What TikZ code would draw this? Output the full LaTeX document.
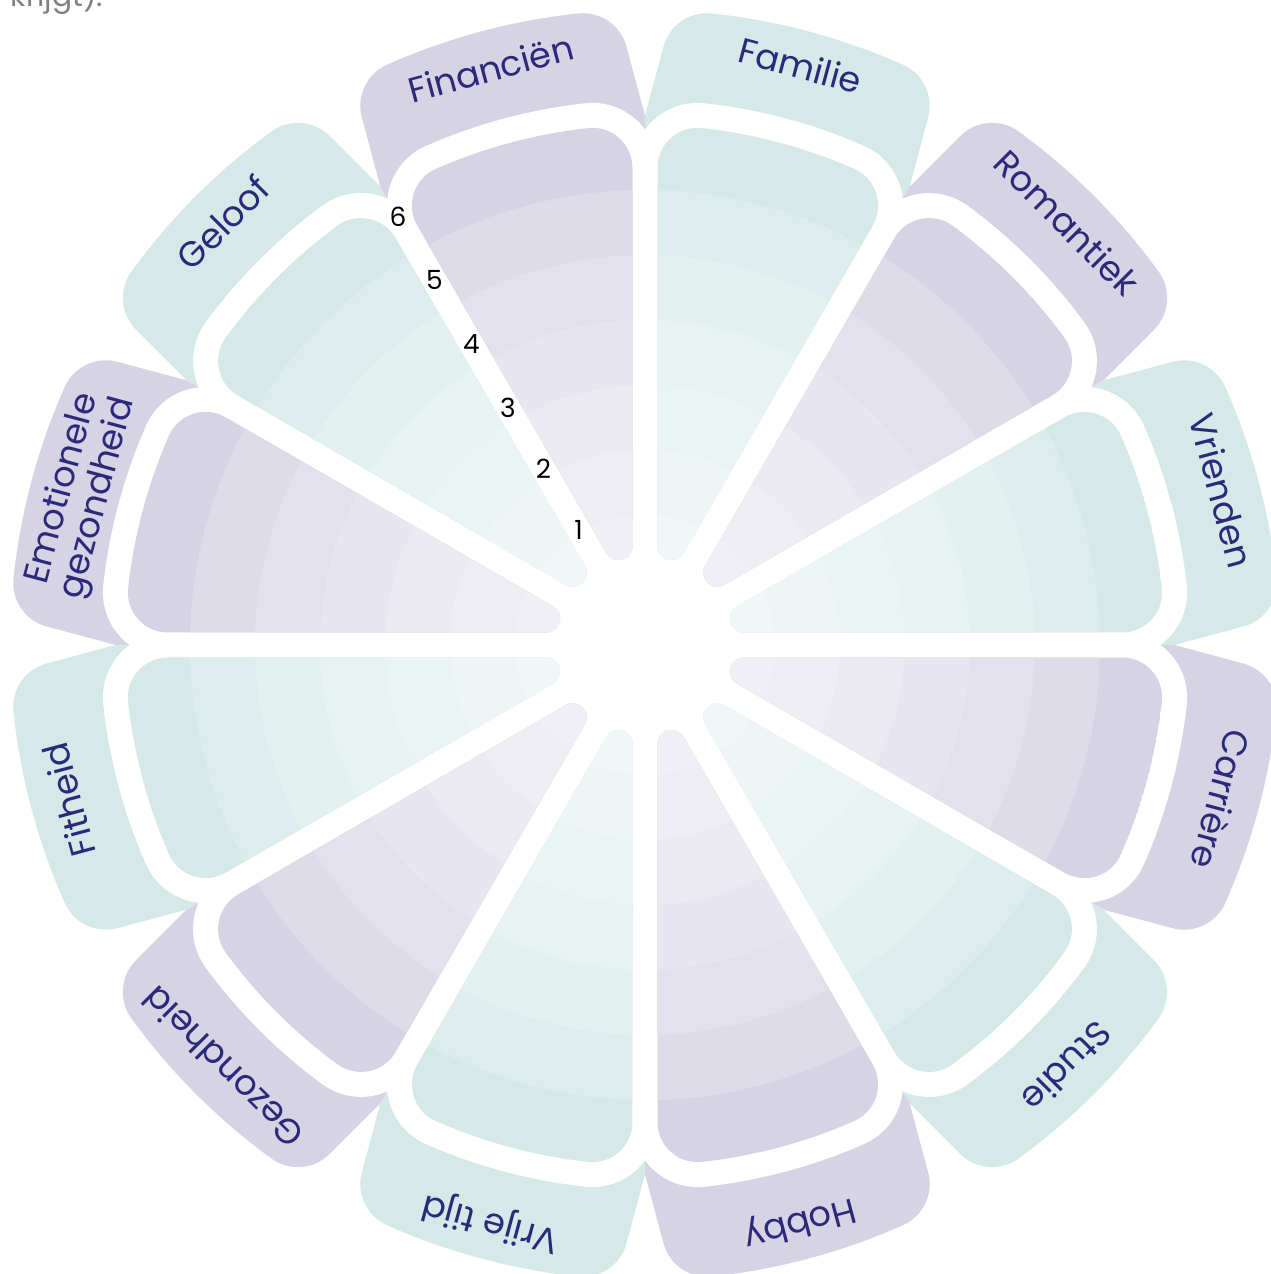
\documentclass[tikz,border=0pt]{standalone}
\usepackage{fontspec}
\setmainfont{Poppins}
\usepackage{tikz}
\usepackage{xcolor}
\definecolor{lilac}{RGB}{214,211,228}
\definecolor{mint}{RGB}{213,233,232}
\definecolor{ink}{RGB}{44,40,122}

\newcommand{\petalpath}{(-15:400) -- (511.3,-137) -- (582.8,-137) arc[start angle=-90,end angle=-8.97,radius=45] arc[start angle=-8.97,end angle=8.97,radius=635] arc[start angle=8.97,end angle=90,radius=45] -- (511.3,137) -- (15:400) -- cycle}
\newcommand{\wedgepath}{(98.77,-13.52) -- (464.09,-111.41) arc[start angle=-105,end angle=-8.721,radius=40] arc[start angle=-8.721,end angle=8.721,radius=520] arc[start angle=8.721,end angle=105,radius=40] -- (98.77,13.52) arc[start angle=105,end angle=255,radius=14] -- cycle}
\newcommand{\bands}[2]{\begin{scope}[rotate=#1]
\clip \wedgepath;
\fill[#2] (0,0) circle[radius=520];
\fill[#2!80!white] (0,0) circle[radius=455];
\fill[#2!68!white] (0,0) circle[radius=390];
\fill[#2!58!white] (0,0) circle[radius=325];
\fill[#2!50!white] (0,0) circle[radius=260];
\fill[#2!42!white] (0,0) circle[radius=195];
\fill[#2!36!white] (0,0) circle[radius=130];
\fill[#2!30!white] (0,0) circle[radius=65];
\end{scope}}

\begin{document}
\begin{tikzpicture}[x=0.01cm,y=0.01cm,
  lbl/.style={text=ink,font=\fontsize{10}{10.5}\selectfont,align=center,inner sep=0pt},
  num/.style={text=black,font=\fontsize{7.5}{9}\selectfont,inner sep=0pt},
  gap/.style={draw=white,line width=0.5cm,line join=round}]
\useasboundingbox (-645,-629) rectangle (626,645);
\node[anchor=base west,text=gray,font=\fontsize{8.5}{10}\selectfont,inner sep=0pt] (note) at (-635,638) {krijgt).};
\fill[mint,rotate=75] \petalpath;
\fill[lilac,rotate=45] \petalpath;
\fill[mint,rotate=15] \petalpath;
\fill[lilac,rotate=-15] \petalpath;
\fill[mint,rotate=-45] \petalpath;
\fill[lilac,rotate=-75] \petalpath;
\fill[mint,rotate=-105] \petalpath;
\fill[lilac,rotate=-135] \petalpath;
\fill[mint,rotate=-165] \petalpath;
\fill[lilac,rotate=165] \petalpath;
\fill[mint,rotate=135] \petalpath;
\fill[lilac,rotate=105] \petalpath;
\draw[gap,rotate=75] \wedgepath;
\draw[gap,rotate=45] \wedgepath;
\draw[gap,rotate=15] \wedgepath;
\draw[gap,rotate=-15] \wedgepath;
\draw[gap,rotate=-45] \wedgepath;
\draw[gap,rotate=-75] \wedgepath;
\draw[gap,rotate=-105] \wedgepath;
\draw[gap,rotate=-135] \wedgepath;
\draw[gap,rotate=-165] \wedgepath;
\draw[gap,rotate=165] \wedgepath;
\draw[gap,rotate=135] \wedgepath;
\draw[gap,rotate=105] \wedgepath;
\bands{75}{mint}
\bands{45}{lilac}
\bands{15}{mint}
\bands{-15}{lilac}
\bands{-45}{mint}
\bands{-75}{lilac}
\bands{-105}{mint}
\bands{-135}{lilac}
\bands{-165}{mint}
\bands{165}{lilac}
\bands{135}{mint}
\bands{105}{lilac}
\node[lbl,rotate=-15] (fam) at (75:600) {Familie};
\node[lbl,rotate=-45] (rom) at (45:597) {Romantiek};
\node[lbl,rotate=-75] (vri) at (15:597) {Vrienden};
\node[lbl,rotate=-105] (car) at (-15:597) {Carrière};
\node[lbl,rotate=-135] (stu) at (-45:597) {Studie};
\node[lbl,rotate=-165] (hob) at (-75:597) {Hobby};
\node[lbl,rotate=-195] (vrt) at (-105:597) {Vrije tijd};
\node[lbl,rotate=-225] (gez) at (-135:597) {Gezondheid};
\node[lbl,rotate=-255] (fit) at (-165:597) {Fitheid};
\node[lbl,rotate=75] (emo) at (165:584) {Emotionele\\gezondheid};
\node[lbl,rotate=45] (gel) at (135:597) {Geloof};
\node[lbl,rotate=15] (fin) at (105:597) {Financiën};
\node[num] (n1) at (120:133) {1};
\node[num] (n2) at (120:203) {2};
\node[num] (n3) at (120:274) {3};
\node[num] (n4) at (120:347) {4};
\node[num] (n5) at (120:421) {5};
\node[num] (n6) at (120:494) {6};
\end{tikzpicture}
\end{document}
